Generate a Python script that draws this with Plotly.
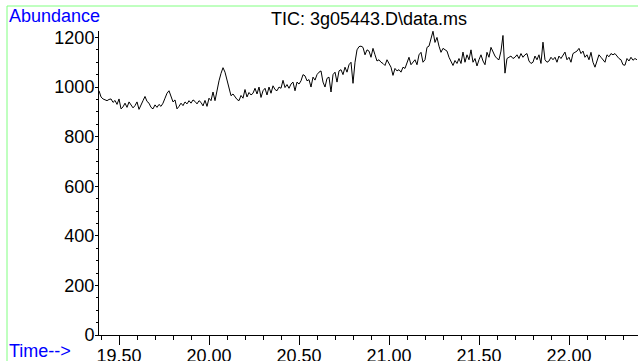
import plotly.graph_objects as go

# Scan timing (minutes)
t_start = 19.389
t_step = 0.01111

# TIC abundance, in scan order
abundance_a = [
    985, 960, 952, 950, 945, 950, 952, 938, 946, 930,
    952, 912, 920, 935, 918, 940, 928, 916, 925, 940,
    910, 925, 945, 962, 942, 935, 918, 912, 928, 918,
    930, 922, 935, 955, 975, 985, 962, 940, 948, 912,
    922, 935, 925, 940, 932, 945, 935, 948, 942, 932,
    945, 938, 924, 946, 922, 955, 945, 980, 945, 990,
]
abundance_b = [
    1025, 1055, 1078, 1060, 1025, 990, 965, 972, 958, 950,
    945, 966, 955, 990, 960, 978, 968, 975, 995, 972,
    1000, 958, 985, 995, 968, 1000, 975, 1005, 990, 985,
    1000, 995, 1027, 998, 1010, 995, 1012, 1020, 985, 1020,
    1012, 1025, 1050, 1045, 1025, 1030, 1000, 1040, 1028, 1050,
    1060, 1065, 1020, 1000, 1035, 1040, 980, 1050, 1060, 1020,
    1065, 1070, 1050, 1080, 1060, 1090, 1100,
]
abundance_c = [
    1015, 1100, 1150, 1163, 1165, 1160, 1130, 1150, 1145, 1120,
    1156, 1130, 1105, 1110, 1100, 1095, 1087, 1110, 1095, 1080,
    1047, 1075, 1065, 1070, 1060, 1080, 1075, 1100, 1120, 1090,
    1100, 1110, 1090, 1130, 1140, 1100, 1110, 1160, 1165, 1195,
    1225, 1180, 1200, 1165, 1140, 1156, 1150, 1145, 1120, 1100,
    1087, 1107, 1095, 1115, 1095, 1141, 1100, 1130, 1110, 1150,
]
abundance_d = [
    1100, 1115, 1085, 1110, 1130, 1105, 1090, 1140, 1120, 1160,
    1140, 1125, 1115, 1110, 1145, 1208, 1056, 1115, 1120, 1125,
    1115, 1120, 1130, 1115, 1135, 1120, 1130, 1135, 1105, 1095,
    1100, 1125, 1110, 1130, 1095, 1181, 1110, 1100, 1105, 1120,
    1110, 1120, 1100, 1125, 1115, 1130, 1141, 1110, 1120, 1100,
    1135, 1140, 1145, 1156, 1135, 1145, 1120, 1130, 1110, 1140,
    1100, 1080, 1105, 1130, 1120, 1110, 1100, 1130, 1122, 1135,
    1130, 1135, 1125, 1115, 1110, 1090, 1088, 1115, 1105, 1120,
    1108, 1115, 1110,
]

abundance = abundance_a + abundance_b + abundance_c + abundance_d
times = [t_start + t_step * i for i in range(len(abundance))]

title_text = "TIC: 3g05443.D\\data.ms"
y_label = "Abundance"
x_label = "Time-->"

FONT = "Arial, Liberation Sans, sans-serif"
W, H = 638, 361
ML, MR, MT, MB = 99, 0, 31, 26
pw = W - ML - MR
ph = H - MT - MB

fig = go.Figure()
fig.add_trace(go.Scatter(
    x=times, y=abundance, mode="lines",
    line=dict(color="black", width=1),
    cliponaxis=False, hoverinfo="skip",
))

def px_x(x):
    return (x - ML) / pw

def px_y(y):
    return (H - MB - y) / ph

fig.update_layout(
    width=W, height=H,
    margin=dict(l=ML, r=MR, t=MT, b=MB, pad=0, autoexpand=False),
    paper_bgcolor="white", plot_bgcolor="white",
    showlegend=False,
    hovermode=False,
    font=dict(family=FONT, size=18, color="black"),
    xaxis=dict(
        range=[19.3889, 22.3833],
        showgrid=False, zeroline=False, automargin=False,
        showline=True, linecolor="black", linewidth=1,
        ticks="outside", ticklen=9, tickwidth=1, tickcolor="black",
        tick0=19.5, dtick=0.5, tickformat=".2f",
        ticklabelstandoff=-5,
        tickfont=dict(family=FONT, size=18, color="black"),
        minor=dict(dtick=0.1, tick0=19.5, ticks="outside", ticklen=4,
                   tickcolor="black", tickwidth=1, showgrid=False),
    ),
    yaxis=dict(
        range=[0, 1226],
        showgrid=False, zeroline=False, automargin=False,
        showline=True, linecolor="black", linewidth=1,
        ticks="outside", ticklen=3, tickwidth=1, tickcolor="black",
        tick0=0, dtick=200,
        ticklabelstandoff=-3,
        tickfont=dict(family=FONT, size=18, color="black"),
        minor=dict(dtick=50, ticks="outside", ticklen=2,
                   tickcolor="black", tickwidth=1, showgrid=False),
    ),
    annotations=[
        dict(text=title_text, xref="paper", yref="paper",
             x=px_x(369), y=px_y(19), xanchor="center", yanchor="middle",
             showarrow=False, font=dict(family=FONT, size=18, color="black")),
        dict(text=y_label, xref="paper", yref="paper",
             x=px_x(7), y=px_y(16), xanchor="left", yanchor="middle",
             showarrow=False, font=dict(family=FONT, size=18, color="#0000ff")),
        dict(text=x_label, xref="paper", yref="paper",
             x=px_x(7), y=px_y(351), xanchor="left", yanchor="middle",
             showarrow=False, font=dict(family=FONT, size=18, color="#0000ff")),
    ],
    shapes=[
        dict(type="line", xref="paper", yref="paper",
             x0=px_x(7), x1=px_x(700), y0=px_y(6), y1=px_y(6),
             line=dict(color="#80ff80", width=1)),
        dict(type="line", xref="paper", yref="paper",
             x0=px_x(7), x1=px_x(7), y0=px_y(6), y1=px_y(400),
             line=dict(color="#80ff80", width=1)),
    ],
)

fig.write_html(
    "out.html",
    config={"displayModeBar": False, "staticPlot": True},
    post_script="document.body.style.margin='0';document.body.style.padding='0';",
)
